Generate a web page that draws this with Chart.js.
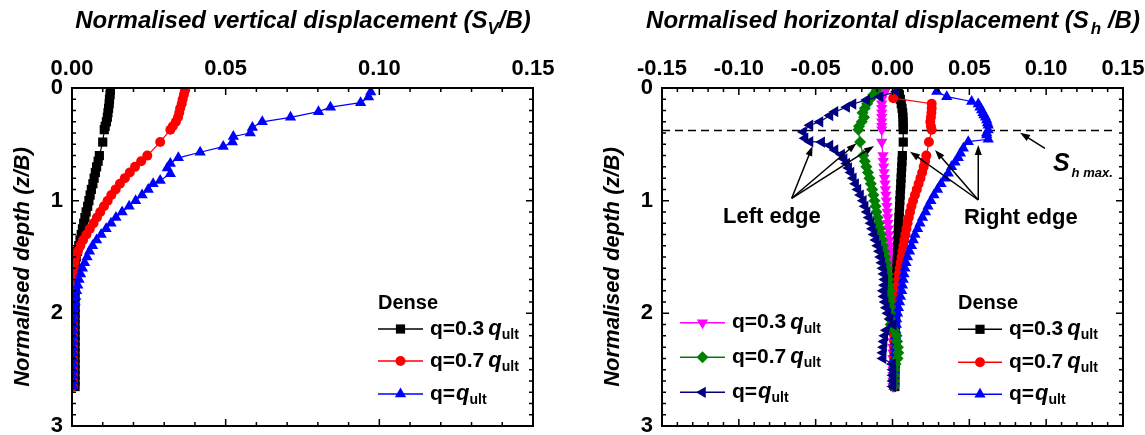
<!DOCTYPE html>
<html>
<head>
<meta charset="utf-8">
<script src="https://cdn.jsdelivr.net/npm/chart.js@4.4.1/dist/chart.umd.min.js"></script>
<style>
  body { margin: 0; background: #fff; }
  #wrap { position: relative; width: 1145px; height: 435px; }
  canvas { position: absolute; top: 0; }
</style>
</head>
<body>
<div id="wrap">
  <canvas id="vert" width="590" height="435" style="left:0"></canvas>
  <canvas id="horz" width="555" height="435" style="left:590px"></canvas>
</div>
<script>
// ---- data (z/B depths and S/B displacements) ----
const depth = [0.02, 0.06, 0.10, 0.14, 0.18, 0.22, 0.26, 0.30, 0.34, 0.37,
  0.48,
  0.60, 0.65, 0.70, 0.75, 0.80, 0.85, 0.90, 0.95, 1.00,
  1.05, 1.10, 1.15, 1.20, 1.25, 1.30, 1.35, 1.40, 1.45, 1.50,
  1.55, 1.60, 1.65, 1.70, 1.75, 1.80, 1.85, 1.90, 1.95, 2.00,
  2.05, 2.10, 2.15, 2.20, 2.25, 2.30, 2.35, 2.40, 2.45, 2.50,
  2.55, 2.60, 2.65];

// vertical displacement, dense sand
const sv03 = [0.0125, 0.0124, 0.0122, 0.0121, 0.0119, 0.0117, 0.0115, 0.0112, 0.0108, 0.0105,
  0.0100,
  0.0089, 0.0085, 0.0080, 0.0076, 0.0072, 0.0068, 0.0063, 0.0059, 0.0055,
  0.0051, 0.0046, 0.0042, 0.0038, 0.0034, 0.0030, 0.0026, 0.0022, 0.0018, 0.0014,
  0.0011, 0.0010, 0.0010, 0.0010, 0.0010, 0.0010, 0.0010, 0.0010, 0.0010, 0.0010,
  0.0010, 0.0010, 0.0010, 0.0010, 0.0010, 0.0010, 0.0010, 0.0010, 0.0010, 0.0010,
  0.0010, 0.0010, 0.0010];
const sv07 = [0.0368, 0.0364, 0.0360, 0.0357, 0.0352, 0.0349, 0.0345, 0.0338, 0.0328, 0.0320,
  0.0287,
  0.0245, 0.0225, 0.0205, 0.0188, 0.0172, 0.0156, 0.0142, 0.0128, 0.0116,
  0.0104, 0.0092, 0.0081, 0.0070, 0.0058, 0.0047, 0.0036, 0.0027, 0.0019, 0.0012,
  0.0008, 0.0006, 0.0005, 0.0004, 0.0004, 0.0004, 0.0003, 0.0003, 0.0003, 0.0003,
  0.0003, 0.0003, 0.0003, 0.0003, 0.0003, 0.0003, 0.0003, 0.0003, 0.0003, 0.0003,
  0.0003, 0.0003, 0.0003];
const depthSvUlt = [0.035, 0.08, 0.13, 0.17, 0.21, 0.26, 0.30, 0.35, 0.40, 0.43,
  0.48, 0.52, 0.57, 0.62, 0.67, 0.71, 0.76, 0.82,
  0.85, 0.90, 0.95, 1.00, 1.05, 1.10, 1.15, 1.20, 1.25, 1.30,
  1.35, 1.40, 1.45, 1.50, 1.55, 1.60, 1.65, 1.70, 1.75, 1.80,
  1.85, 1.90, 1.95, 2.00, 2.05, 2.10, 2.15, 2.20, 2.25, 2.30,
  2.35, 2.40, 2.45, 2.50, 2.55, 2.60, 2.65];
const svUlt = [0.0972, 0.0965, 0.0939, 0.0841, 0.0802, 0.0711, 0.0619, 0.0587, 0.0580, 0.0525,
  0.0522, 0.0492, 0.0417, 0.0346, 0.0320, 0.0310, 0.0320, 0.0287,
  0.0264, 0.0248, 0.0228, 0.0207, 0.0186, 0.0163, 0.0143, 0.0127, 0.0111, 0.0095,
  0.0080, 0.0067, 0.0057, 0.0049, 0.0041, 0.0034, 0.0028, 0.0023, 0.0019, 0.0015,
  0.0012, 0.0010, 0.0008, 0.0006, 0.0005, 0.0004, 0.0004, 0.0003, 0.0003, 0.0003,
  0.0003, 0.0003, 0.0003, 0.0003, 0.0003, 0.0003, 0.0003];

// horizontal displacement, dense sand
const sh03Dense = [0.0038, 0.0045, 0.0051, 0.0057, 0.0062, 0.0066, 0.0068, 0.0069, 0.0070, 0.0070,
  0.0070,
  0.0064, 0.0062, 0.0060, 0.0058, 0.0056, 0.0054, 0.0052, 0.0050, 0.0048,
  0.0046, 0.0044, 0.0042, 0.0040, 0.0038, 0.0037, 0.0036, 0.0034, 0.0033, 0.0032,
  0.0030, 0.0029, 0.0028, 0.0027, 0.0026, 0.0025, 0.0024, 0.0023, 0.0022, 0.0021,
  0.0020, 0.0020, 0.0019, 0.0019, 0.0018, 0.0018, 0.0017, 0.0017, 0.0016, 0.0016,
  0.0015, 0.0015, 0.0015];
const depthSh07Dense = [0.09, 0.14, 0.18, 0.22, 0.26, 0.30, 0.34, 0.37,
  0.48,
  0.60, 0.65, 0.70, 0.75, 0.80, 0.85, 0.90, 0.95, 1.00,
  1.05, 1.10, 1.15, 1.20, 1.25, 1.30, 1.35, 1.40, 1.45, 1.50,
  1.55, 1.60, 1.65, 1.70, 1.75, 1.80, 1.85, 1.90, 1.95, 2.00,
  2.05, 2.10, 2.15, 2.20, 2.25, 2.30, 2.35, 2.40, 2.45, 2.50,
  2.55, 2.60, 2.65];
const sh07Dense = [0.0005, 0.0255, 0.0255, 0.0253, 0.0250, 0.0246, 0.0250, 0.0255,
  0.0237,
  0.0220, 0.0212, 0.0203, 0.0193, 0.0182, 0.0170, 0.0158, 0.0146, 0.0134,
  0.0123, 0.0114, 0.0106, 0.0098, 0.0091, 0.0084, 0.0077, 0.0071, 0.0065, 0.0059,
  0.0053, 0.0047, 0.0042, 0.0038, 0.0032, 0.0026, 0.0020, 0.0017, 0.0015, 0.0014,
  0.0013, 0.0013, 0.0012, 0.0012, 0.0012, 0.0011, 0.0011, 0.0011, 0.0010, 0.0010,
  0.0010, 0.0010, 0.0010];
const depthShUltDense = [0.03, 0.077, 0.12, 0.142, 0.17, 0.195, 0.22, 0.24, 0.26, 0.284,
  0.31, 0.33, 0.373, 0.40, 0.417, 0.455, 0.476, 0.535, 0.58, 0.62,
  0.66, 0.70, 0.757,
  0.80, 0.85, 0.90, 0.95, 1.00, 1.05, 1.10, 1.15, 1.20, 1.25,
  1.30, 1.35, 1.40, 1.45, 1.50, 1.55, 1.60, 1.65, 1.70, 1.75,
  1.80, 1.85, 1.90, 1.95, 2.00, 2.05, 2.10, 2.15, 2.20, 2.25,
  2.30, 2.35, 2.40, 2.45, 2.50, 2.55, 2.60, 2.65];
const shUltDense = [0.0288, 0.0353, 0.0515, 0.0558, 0.0569, 0.0580, 0.0589, 0.0595, 0.0605, 0.0613,
  0.0618, 0.0623, 0.0623, 0.0613, 0.0613, 0.0623, 0.0493, 0.0461, 0.0442, 0.0428,
  0.0407, 0.0384, 0.0363,
  0.0342, 0.0316, 0.0293, 0.0270, 0.0250, 0.0231, 0.0215, 0.0195, 0.0179, 0.0163,
  0.0146, 0.0135, 0.0124, 0.0111, 0.0098, 0.0088, 0.0081, 0.0075, 0.0070, 0.0065,
  0.0060, 0.0052, 0.0046, 0.0039, 0.0033, 0.0027, 0.0025, 0.0022, 0.0020, 0.0018,
  0.0016, 0.0014, 0.0013, 0.0012, 0.0011, 0.0010, 0.0010, 0.0010];

// horizontal displacement, second set (no header in the legend)
const sh03 = [-0.0042, -0.0060, -0.0070, -0.0070, -0.0070, -0.0070, -0.0070, -0.0070, -0.0070, -0.0070,
  -0.0070,
  -0.0062, -0.0060, -0.0058, -0.0055, -0.0052, -0.0049, -0.0046, -0.0043, -0.0040,
  -0.0037, -0.0035, -0.0032, -0.0030, -0.0027, -0.0024, -0.0021, -0.0018, -0.0015, -0.0012,
  -0.0010, -0.0008, -0.0006, -0.0005, -0.0003, -0.0002, -0.0001, 0.0000, 0.0001, 0.0001,
  0.0002, 0.0002, 0.0002, 0.0003, 0.0003, 0.0003, 0.0003, 0.0003, 0.0003, 0.0003,
  0.0003, 0.0003, 0.0003];
const sh07 = [-0.0103, -0.0125, -0.0146, -0.0165, -0.0180, -0.0195, -0.0185, -0.0200, -0.0218, -0.0222,
  -0.0211,
  -0.0190, -0.0180, -0.0170, -0.0160, -0.0150, -0.0141, -0.0132, -0.0124, -0.0117,
  -0.0110, -0.0104, -0.0097, -0.0090, -0.0083, -0.0076, -0.0068, -0.0061, -0.0054, -0.0048,
  -0.0041, -0.0035, -0.0030, -0.0027, -0.0023, -0.0020, -0.0017, -0.0016, -0.0016, -0.0016,
  -0.0016, -0.0012, 0.0010, 0.0027, 0.0030, 0.0035, 0.0038, 0.0033, 0.0020, 0.0012,
  0.0010, 0.0010, 0.0010];
const depthShUlt = [0.03, 0.077, 0.106, 0.142, 0.17, 0.21, 0.245, 0.30, 0.33, 0.39,
  0.446, 0.476, 0.48, 0.51, 0.55, 0.59, 0.63, 0.67, 0.71, 0.75,
  0.80, 0.85, 0.90, 0.95, 1.00, 1.05, 1.10, 1.15, 1.20, 1.25,
  1.30, 1.35, 1.40, 1.45, 1.50, 1.55, 1.60, 1.65, 1.70, 1.75,
  1.80, 1.85, 1.90, 1.95, 2.00, 2.05, 2.10, 2.15, 2.20, 2.25,
  2.30, 2.35, 2.40, 2.45, 2.50, 2.55, 2.60, 2.65];
const shUlt = [0.0027, -0.0081, -0.0168, -0.0257, -0.0298, -0.0374, -0.0407, -0.0472, -0.0537, -0.0580,
  -0.0569, -0.0537, -0.0461, -0.0407, -0.0374, -0.0331, -0.0315, -0.0298, -0.0285, -0.0270,
  -0.0255, -0.0240, -0.0225, -0.0208, -0.0190, -0.0178, -0.0165, -0.0152, -0.0140, -0.0130,
  -0.0120, -0.0108, -0.0096, -0.0085, -0.0077, -0.0069, -0.0062, -0.0056, -0.0050, -0.0052,
  -0.0060, -0.0055, -0.0048, -0.0040, -0.0030, -0.0015, 0.0005, -0.0040, -0.0050, -0.0055,
  -0.0058, -0.0062, -0.0062, 0.0000, 0.0003, 0.0003, 0.0003, 0.0003];

const shMaxDepth = 0.378;

// ticks
const svTicks = [0, 0.05, 0.10, 0.15];
const shTicks = [-0.15, -0.10, -0.05, 0, 0.05, 0.10, 0.15];
const depthTicks = [0, 1, 2, 3];
const loadFactors = ['0.3', '0.7', ''];

// ---- helpers ----
const FONT = '"Liberation Sans", Arial, sans-serif';
const font = (size, style) => (style || 'bold') + ' ' + size + 'px ' + FONT;

function series(label, factor, depths, values, color, style, radius, rotation, order) {
  return {
    label: label, factor: factor,
    data: depths.map((z, i) => ({ x: values[i], y: z })),
    showLine: true, borderColor: color, backgroundColor: color, borderWidth: 1.2,
    pointStyle: style, pointRadius: radius, pointRotation: rotation || 0,
    pointBorderWidth: 0, pointBackgroundColor: color, order: order
  };
}

function marker(ctx, style, x, y, r, color, rot) {
  ctx.save();
  ctx.translate(x, y);
  ctx.rotate((rot || 0) * Math.PI / 180);
  ctx.fillStyle = color;
  ctx.beginPath();
  if (style === 'rect') {
    const s = r * Math.SQRT1_2;
    ctx.rect(-s, -s, 2 * s, 2 * s);
  } else if (style === 'circle') {
    ctx.arc(0, 0, r, 0, 2 * Math.PI);
  } else if (style === 'triangle') {
    ctx.moveTo(0, -r); ctx.lineTo(r * 0.866, r * 0.5); ctx.lineTo(-r * 0.866, r * 0.5); ctx.closePath();
  } else {
    ctx.moveTo(0, -r); ctx.lineTo(r, 0); ctx.lineTo(0, r); ctx.lineTo(-r, 0); ctx.closePath();
  }
  ctx.fill();
  ctx.restore();
}

// parts: [text, font, dy, gapBefore]
function rich(ctx, parts, x, y, align) {
  let w = 0;
  parts.forEach(p => { ctx.font = p[1]; w += ctx.measureText(p[0]).width + (p[3] || 0); });
  let cx = align === 'center' ? x - w / 2 : (align === 'right' ? x - w : x);
  ctx.textAlign = 'left';
  parts.forEach(p => {
    ctx.font = p[1];
    cx += p[3] || 0;
    ctx.fillText(p[0], cx, y + (p[2] || 0));
    cx += ctx.measureText(p[0]).width;
  });
}

function arrow(ctx, x1, y1, x2, y2) {
  const a = Math.atan2(y2 - y1, x2 - x1), L = 10, W = 3.5;
  ctx.beginPath(); ctx.moveTo(x1, y1); ctx.lineTo(x2 - 4 * Math.cos(a), y2 - 4 * Math.sin(a)); ctx.stroke();
  ctx.beginPath();
  ctx.moveTo(x2, y2);
  ctx.lineTo(x2 - L * Math.cos(a) + W * Math.sin(a), y2 - L * Math.sin(a) - W * Math.cos(a));
  ctx.lineTo(x2 - L * Math.cos(a) - W * Math.sin(a), y2 - L * Math.sin(a) + W * Math.cos(a));
  ctx.closePath(); ctx.fill();
}

function legendRow(ctx, ds, x1, x2, y) {
  ctx.strokeStyle = ds.borderColor; ctx.lineWidth = 1.5;
  ctx.beginPath(); ctx.moveTo(x1, y); ctx.lineTo(x2, y); ctx.stroke();
  marker(ctx, ds.pointStyle, (x1 + x2) / 2, y, ds.pointRadius, ds.backgroundColor, ds.pointRotation);
  ctx.fillStyle = '#000';
  ctx.textBaseline = 'middle';
  rich(ctx, [
    ['q=' + ds.factor, font(21)],
    ['q', font(22, 'italic bold'), 0, ds.factor ? 4 : 1],
    ['ult', font(14), 6]
  ], x2 + 7, y, 'left');
}

// frame with inward major/minor ticks on all four sides
const framePlugin = {
  id: 'frame',
  afterDatasetsDraw(chart) {
    const { ctx, chartArea: a, scales: { x, y } } = chart;
    ctx.save();
    ctx.strokeStyle = '#000';
    ctx.lineWidth = 1.5;
    ctx.beginPath();
    const nx = Math.round((x.max - x.min) / 0.01);
    for (let i = 0; i <= nx; i++) {
      const px = x.getPixelForValue(x.min + i * 0.01);
      const len = i % 5 === 0 ? 7 : 4;
      ctx.moveTo(px, a.top); ctx.lineTo(px, a.top + len);
      ctx.moveTo(px, a.bottom); ctx.lineTo(px, a.bottom - len);
    }
    for (let i = 0; i <= 30; i++) {
      const py = y.getPixelForValue(i / 10);
      const len = i % 10 === 0 ? 7 : 4;
      ctx.moveTo(a.left, py); ctx.lineTo(a.left + len, py);
      ctx.moveTo(a.right, py); ctx.lineTo(a.right - len, py);
    }
    ctx.stroke();
    ctx.lineWidth = 2;
    ctx.strokeRect(a.left, a.top, a.right - a.left, a.bottom - a.top);
    ctx.restore();
  }
};

function axisTitles(ctx, titleParts) {
  ctx.fillStyle = '#000';
  ctx.textBaseline = 'alphabetic';
  rich(ctx, titleParts, 303, 28, 'center');
  ctx.save();
  ctx.translate(23, 267);
  ctx.rotate(-Math.PI / 2);
  ctx.textAlign = 'center';
  ctx.textBaseline = 'middle';
  ctx.font = font(22, 'italic bold');
  ctx.fillText('Normalised depth (z/B)', 0, 0);
  ctx.restore();
}

function makeOptions(xMin, xMax, xTicks, padRight) {
  const tickFont = { family: FONT, size: 22, weight: 'bold' };
  return {
    responsive: false, animation: false, events: [],
    layout: { padding: { left: 0, top: 0, right: padRight, bottom: 9 } },
    plugins: { legend: { display: false }, tooltip: { enabled: false } },
    scales: {
      x: {
        type: 'linear', position: 'top', min: xMin, max: xMax,
        grid: { display: false, drawTicks: false }, border: { display: false },
        afterBuildTicks: s => { s.ticks = xTicks.map(v => ({ value: v })); },
        ticks: {
          font: tickFont, color: '#000', padding: 6, maxRotation: 0, autoSkip: false,
          callback: v => Math.abs(v) < 1e-9 ? '0.00' : v.toFixed(2)
        },
        afterFit: s => { s.height = 88; s.paddingLeft = 0; s.paddingRight = 0; }
      },
      y: {
        type: 'linear', reverse: true, min: 0, max: 3,
        grid: { display: false, drawTicks: false }, border: { display: false },
        afterBuildTicks: s => { s.ticks = depthTicks.map(v => ({ value: v })); },
        ticks: { font: tickFont, color: '#000', padding: 9, callback: v => String(v) },
        afterFit: s => { s.width = 72; s.paddingTop = 0; s.paddingBottom = 0; }
      }
    }
  };
}

// ---- left panel: vertical displacement ----
const vertSets = [
  series('q=0.3qult', loadFactors[0], depth, sv03, '#000000', 'rect', 6.5, 0, 3),
  series('q=0.7qult', loadFactors[1], depth, sv07, '#ff0000', 'circle', 5, 0, 2),
  series('q=qult', loadFactors[2], depthSvUlt, svUlt, '#0000ff', 'triangle', 6.5, 0, 1)
];

new Chart(document.getElementById('vert'), {
  type: 'scatter',
  data: { datasets: vertSets },
  options: makeOptions(0, 0.15, svTicks, 57),
  plugins: [framePlugin, {
    id: 'decoV',
    afterDraw(chart) {
      const ctx = chart.ctx;
      ctx.save();
      axisTitles(ctx, [
        ['Normalised vertical displacement (S', font(24, 'italic bold')],
        ['V', font(17, 'italic bold'), 6],
        ['/B)', font(24, 'italic bold')]
      ]);
      ctx.textBaseline = 'middle';
      ctx.font = font(20);
      ctx.textAlign = 'left';
      ctx.fillText('Dense', 378, 303);
      [329, 361, 394].forEach((y, i) => legendRow(ctx, vertSets[i], 378, 423, y));
      ctx.restore();
    }
  }]
});

// ---- right panel: horizontal displacement ----
const horzSets = [
  series('q=0.3qult dense', loadFactors[0], depth, sh03Dense, '#000000', 'rect', 6.5, 0, 5),
  series('q=0.7qult dense', loadFactors[1], depthSh07Dense, sh07Dense, '#ff0000', 'circle', 5, 0, 4),
  series('q=qult dense', loadFactors[2], depthShUltDense, shUltDense, '#0000ff', 'triangle', 6.5, 0, 3),
  series('q=0.3qult', loadFactors[0], depth, sh03, '#ff00ff', 'triangle', 6.5, 180, 6),
  series('q=0.7qult', loadFactors[1], depth, sh07, '#008000', 'rectRot', 6, 0, 2),
  series('q=qult', loadFactors[2], depthShUlt, shUlt, '#000080', 'triangle', 6.5, 270, 1)
];

new Chart(document.getElementById('horz'), {
  type: 'scatter',
  data: { datasets: horzSets },
  options: makeOptions(-0.15, 0.15, shTicks, 22),
  plugins: [framePlugin, {
    id: 'decoH',
    beforeDatasetsDraw(chart) {
      const { ctx, chartArea: a, scales: { x, y } } = chart;
      ctx.save();
      ctx.strokeStyle = '#000';
      ctx.lineWidth = 1.5;
      ctx.setLineDash([8, 5]);
      ctx.beginPath();
      ctx.moveTo(a.left, y.getPixelForValue(shMaxDepth));
      ctx.lineTo(x.getPixelForValue(0.144), y.getPixelForValue(shMaxDepth));
      ctx.stroke();
      ctx.restore();
    },
    afterDraw(chart) {
      const { ctx, scales: { x, y } } = chart;
      const P = (v, z) => [x.getPixelForValue(v), y.getPixelForValue(z)];
      ctx.save();
      axisTitles(ctx, [
        ['Normalised horizontal displacement (S', font(24, 'italic bold')],
        ['h', font(17, 'italic bold'), 6, 2],
        [' /B)', font(24, 'italic bold')]
      ]);
      // arrows
      ctx.strokeStyle = '#000'; ctx.fillStyle = '#000'; ctx.lineWidth = 1.5;
      const lf = P(-0.0656, 0.979);
      [[-0.052, 0.515], [-0.0234, 0.49], [-0.012, 0.515]].forEach(t => {
        const p = P(t[0], t[1]); arrow(ctx, lf[0], lf[1], p[0], p[1]);
      });
      const rf = P(0.0558, 0.994);
      [[0.0114, 0.565], [0.0277, 0.55], [0.0558, 0.506]].forEach(t => {
        const p = P(t[0], t[1]); arrow(ctx, rf[0], rf[1], p[0], p[1]);
      });
      const s1 = P(0.0992, 0.535), s2 = P(0.083, 0.397);
      arrow(ctx, s1[0], s1[1], s2[0], s2[1]);
      // labels
      ctx.textBaseline = 'middle';
      let p = P(-0.0785, 1.142);
      rich(ctx, [['Left edge', font(22)]], p[0], p[1], 'center');
      p = P(0.0835, 1.156);
      rich(ctx, [['Right edge', font(22)]], p[0], p[1], 'center');
      ctx.textBaseline = 'alphabetic';
      p = P(0.1044, 0.736);
      rich(ctx, [['S', font(25, 'italic bold')], ['h max.', font(13, 'italic bold'), 6, 2]], p[0], p[1], 'left');
      // legends
      ctx.textBaseline = 'middle';
      [322.7, 357.3, 392.3].forEach((yy, i) => legendRow(ctx, horzSets[3 + i], 90, 135, yy));
      ctx.fillStyle = '#000';
      ctx.font = font(20);
      ctx.textAlign = 'left';
      ctx.fillText('Dense', 368, 303);
      [329.3, 362.3, 394.3].forEach((yy, i) => legendRow(ctx, horzSets[i], 368, 412, yy));
      ctx.restore();
    }
  }]
});
</script>
</body>
</html>
